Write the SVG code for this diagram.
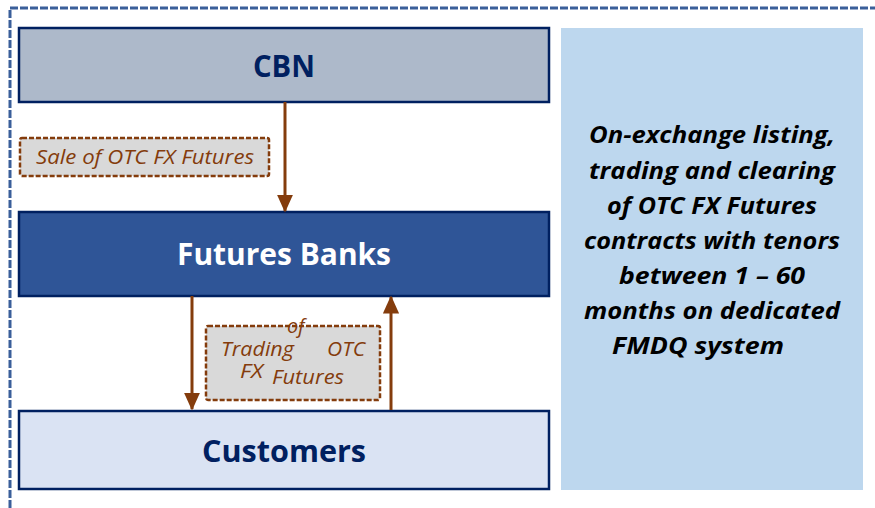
<svg xmlns="http://www.w3.org/2000/svg" width="875" height="508" viewBox="0 0 875 508">
<defs>
<style>
.node{stroke:#002060;stroke-width:2.5}
.title{font-family:"Open Sans","Liberation Sans",sans-serif;font-weight:bold;text-anchor:middle}
.lbl{fill:#D9D9D9;stroke:#843C0C;stroke-width:2.5;stroke-dasharray:5,2}
.lt{font-family:"Open Sans","Liberation Sans",sans-serif;font-style:italic;fill:#843C0C;font-size:20px}
.conn{stroke:#843C0C;stroke-width:3;fill:none}
.rt{font-family:"Open Sans","Liberation Sans",sans-serif;font-style:italic;font-weight:bold;font-size:24px;fill:#000;text-anchor:middle}
</style>
<marker id="ah" markerWidth="6" markerHeight="5.4" refX="5.5" refY="2.7" orient="auto" markerUnits="strokeWidth">
<path d="M0,0 L6,2.7 L0,5.4 Z" fill="#843C0C"/>
</marker>
</defs>
<rect width="875" height="508" fill="#fff"/>
<path d="M10,508 V8 H875" fill="none" stroke="#3A5F9A" stroke-width="3" stroke-dasharray="8,2"/>
<g id="panel">
<rect x="561" y="28" width="302" height="462" fill="#BDD7EE"/>
<text class="rt" x="712" y="143" textLength="246" lengthAdjust="spacingAndGlyphs">On-exchange listing,</text>
<text class="rt" x="712" y="179" textLength="246" lengthAdjust="spacingAndGlyphs">trading and clearing</text>
<text class="rt" x="712" y="214" textLength="210" lengthAdjust="spacingAndGlyphs">of OTC FX Futures</text>
<text class="rt" x="712" y="249" textLength="256" lengthAdjust="spacingAndGlyphs">contracts with tenors</text>
<text class="rt" x="712" y="284" textLength="186" lengthAdjust="spacingAndGlyphs">between 1 – 60</text>
<text class="rt" x="712" y="319" textLength="256" lengthAdjust="spacingAndGlyphs">months on dedicated</text>
<text class="rt" x="698" y="354" textLength="172" lengthAdjust="spacingAndGlyphs">FMDQ system</text>
</g>
<g id="cbn">
<rect class="node" x="19" y="28" width="530" height="74" fill="#ADB9CA"/>
<text class="title" x="284" y="77" font-size="30" fill="#002060" textLength="62" lengthAdjust="spacingAndGlyphs">CBN</text>
</g>
<g id="futures-banks">
<rect class="node" x="19" y="212" width="530" height="84" fill="#2F5597"/>
<text class="title" x="284" y="265" font-size="30" fill="#fff" textLength="214" lengthAdjust="spacingAndGlyphs">Futures Banks</text>
</g>
<g id="customers">
<rect class="node" x="19" y="411" width="530" height="78" fill="#DAE3F3"/>
<text class="title" x="284" y="462" font-size="30" fill="#002060" textLength="164" lengthAdjust="spacingAndGlyphs">Customers</text>
</g>
<g id="connectors">
<line class="conn" x1="285" y1="102" x2="285" y2="211" marker-end="url(#ah)"/>
<line class="conn" x1="192" y1="296" x2="192" y2="409" marker-end="url(#ah)"/>
<line class="conn" x1="391" y1="410" x2="391" y2="297" marker-end="url(#ah)"/>
</g>
<g id="label-sale">
<rect class="lbl" x="20" y="138" width="249" height="38" rx="2"/>
<text class="lt" x="36" y="164" textLength="218" lengthAdjust="spacingAndGlyphs">Sale of OTC FX Futures</text>
</g>
<g id="label-trading">
<rect class="lbl" x="206" y="326" width="174" height="74" rx="2"/>
<text class="lt" x="287" y="333">of</text>
<text class="lt" x="221" y="356" textLength="73" lengthAdjust="spacingAndGlyphs">Trading</text>
<text class="lt" x="327" y="356" textLength="38" lengthAdjust="spacingAndGlyphs">OTC</text>
<text class="lt" x="240" y="378" textLength="23" lengthAdjust="spacingAndGlyphs">FX</text>
<text class="lt" x="272" y="384" textLength="72" lengthAdjust="spacingAndGlyphs">Futures</text>
</g>
</svg>
